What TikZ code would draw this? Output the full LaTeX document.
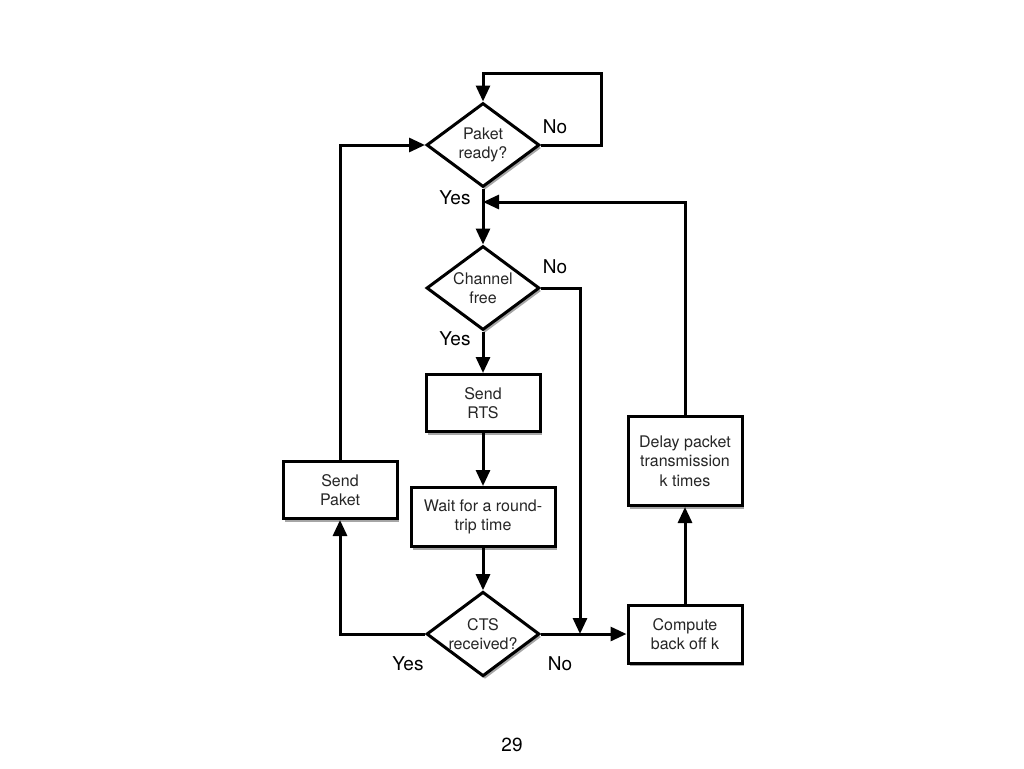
\documentclass[tikz,border=0pt]{standalone}
\usepackage{fontspec}
\setmainfont{TeX Gyre Heros}
\usetikzlibrary{shapes.geometric,arrows.meta,shadows}
\begin{document}
\begin{tikzpicture}[x=1pt,y=-1pt,
  shad/.style={drop shadow={shadow xshift=2pt, shadow yshift=-3pt, opacity=0.35, fill=black}},
  box/.style={draw, line width=3pt, fill=white, align=center, inner sep=0pt,
    font=\fontsize{16}{19.5}\selectfont, text=black!85, shad},
  dia/.style={diamond, draw, line width=3pt, fill=white, align=center, inner sep=-4pt,
    minimum width=113pt, minimum height=84pt, font=\fontsize{16}{19.5}\selectfont, text=black!85, shad},
  arr/.style={line width=3pt, -{Triangle[length=16pt,width=14pt]}},
  lab/.style={font=\fontsize{19}{21}\selectfont, inner sep=0pt}]
\useasboundingbox (0,0) rectangle (1024,768);

\node[dia] (d1) at (483,145) {Paket\\ready?};
\node[dia] (d2) at (483,288) {Channel\\free};
\node[box, minimum width=114pt, minimum height=57pt] (rts) at (483,403) {Send\\RTS};
\node[box, minimum width=144pt, minimum height=59pt] (wait) at (483,517) {Wait for a round-\\trip time};
\node[dia] (d3) at (483,634) {CTS\\received?};
\node[box, minimum width=114pt, minimum height=57pt] (sp) at (340,490) {Send\\Paket};
\node[box, minimum width=114pt, minimum height=58pt] (cb) at (685,634) {Compute\\back off k};
\node[box, minimum width=114pt, minimum height=89pt] (dl) at (685,461) {Delay packet\\transmission\\k times};

\coordinate (loop) at (601,73);
\coordinate (j) at (580,634);
\coordinate (m) at (483,202);

\draw[arr] (d1.east) -| (loop) -| (d1.north);
\draw[arr] (d1.south) -- (d2.north);
\draw[arr] (d2.east) -| (j);
\draw[arr] (d2.south) -- (rts.north);
\draw[arr] (rts.south) -- (wait.north);
\draw[arr] (wait.south) -- (d3.north);
\draw[arr] (d3.west) -| (sp.south);
\draw[arr] (sp.north) |- (d1.west);
\draw[arr] (d3.east) -- (cb.west);
\draw[arr] (cb.north) -- (dl.south);
\draw[arr] (dl.north) |- (m);

\node[lab] (n1) at (555,127) {No};
\node[lab] (y1) at (455,198) {Yes};
\node[lab] (n2) at (555,267) {No};
\node[lab] (y2) at (455,339) {Yes};
\node[lab] (y3) at (408,664) {Yes};
\node[lab] (n3) at (560,664) {No};
\node[lab] (pg) at (512,745) {29};
\end{tikzpicture}
\end{document}
